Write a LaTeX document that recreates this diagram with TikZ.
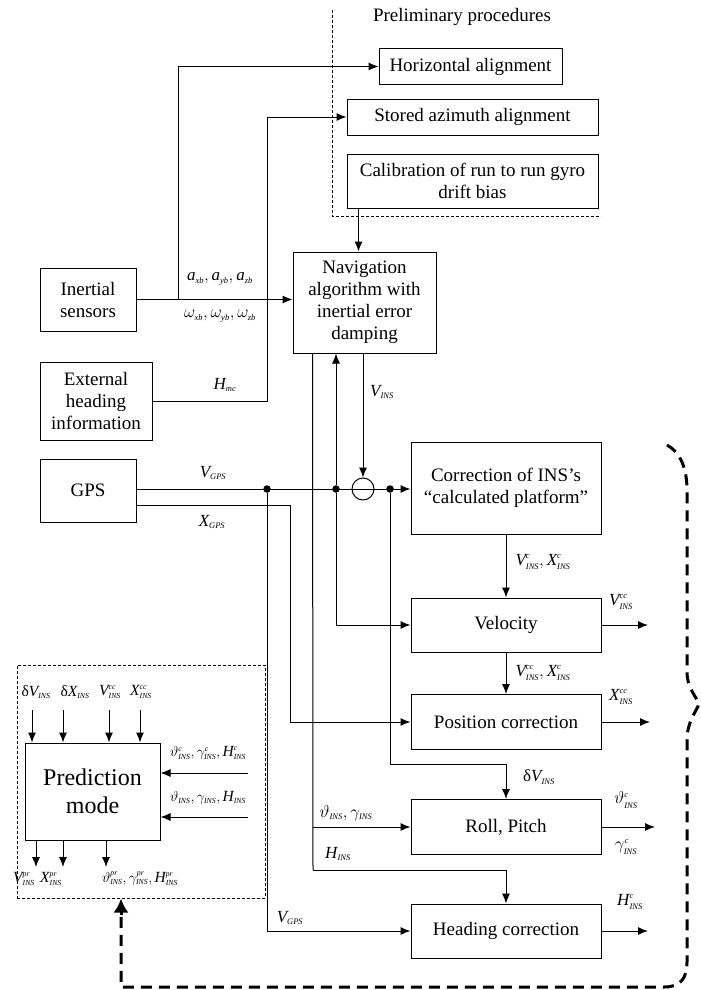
\documentclass[tikz,border=0pt]{standalone}
\usepackage{amsmath}
\usepackage{fontspec}
\setmainfont{Liberation Serif}
\usetikzlibrary{arrows.meta,calc}
\newcommand{\Lsub}[2]{\textit{#1}_{\scriptscriptstyle\textit{#2}}}
\newcommand{\Lsup}[3]{\textit{#1}^{\scriptscriptstyle\textit{#2}}_{\scriptscriptstyle\textit{#3}}}
\newcommand{\Gsub}[2]{#1_{\scriptscriptstyle\textit{#2}}}
\newcommand{\Gsup}[3]{#1^{\scriptscriptstyle\textit{#2}}_{\scriptscriptstyle\textit{#3}}}
\tikzset{
  box/.style={draw, line width=1pt, align=center, inner sep=0pt, font=\fontsize{19}{22}\selectfont},
  lab/.style={inner sep=0pt, font=\fontsize{17}{20}\selectfont},
  plab/.style={inner sep=0pt, font=\fontsize{15.5}{18}\selectfont},
  arr/.style={line width=1pt, -{Latex[length=10pt,width=8pt]}},
  ln/.style={line width=1pt},
  dot/.style={circle, fill, inner sep=0pt, minimum size=7.5pt},
  thindash/.style={line width=1pt, dash pattern=on 3pt off 2pt},
  bigdash/.style={line width=3pt, dash pattern=on 11pt off 7pt},
}
\begin{document}
\begin{tikzpicture}[x=1pt,y=-1pt]
\useasboundingbox (0,0) rectangle (701,990);

% preliminary procedures region
\node[font=\fontsize{19}{22}\selectfont] (prel) at (462,17) {Preliminary procedures};
\coordinate (pd1) at (332,10);
\coordinate (pd2) at (332,216);
\coordinate (pd3) at (601,216);
\draw[thindash] (pd1) -- (pd2) -- (pd3);

\node[box, minimum width=183, minimum height=35] (horiz) at (470.5,66.5) {Horizontal alignment};
\node[box, minimum width=251, minimum height=36] (stored) at (472.5,117) {Stored azimuth alignment};
\node[box, minimum width=251, minimum height=54] (calib) at (472.5,181) {Calibration of run to run gyro\\drift bias};

\node[box, minimum width=143, minimum height=101] (nav) at (364.5,302.5) {Navigation\\algorithm with\\inertial error\\damping};
\node[box, minimum width=96, minimum height=63] (inert) at (88,299.5) {Inertial\\sensors};
\node[box, minimum width=112, minimum height=78] (ext) at (96,401) {External\\heading\\information};
\node[box, minimum width=96, minimum height=63] (gps) at (88,490.5) {GPS};

\node[box, minimum width=190, minimum height=92] (corr) at (506,488) {Correction of INS’s\\“calculated platform”};
\node[box, minimum width=190, minimum height=54] (vel) at (506,625) {Velocity};
\node[box, minimum width=190, minimum height=55] (pos) at (506,722) {Position correction};
\node[box, minimum width=190, minimum height=55] (roll) at (506,827) {Roll, Pitch};
\node[box, minimum width=190, minimum height=54] (head) at (506,931) {Heading correction};

\node[draw, line width=1pt, circle, minimum size=22pt, inner sep=0pt] (sum) at (363,489) {};

% prediction mode
\node[draw, thindash, minimum width=248, minimum height=233, inner sep=0pt] (pbox) at (141,781.5) {};
\node[box, minimum width=135, minimum height=97, font=\fontsize{24}{28}\selectfont] (pred) at (92.5,791.5) {Prediction\\mode};

% inertial sensors connections
\draw[arr] (inert.east) -- (inert.east -| nav.west);
\coordinate (j1) at (178,299.5);
\draw[arr] (j1) |- (horiz.west);
\coordinate (k1) at (267,401);
\draw[arr] (ext.east) -- (k1) |- (stored.west);
\coordinate (c1) at ([xshift=12pt]calib.south west);
\draw[arr] (c1) -- (c1 |- nav.north);

% GPS lines
\coordinate (g1) at ([yshift=1.5pt]gps.east);
\coordinate (g2) at ([yshift=-14.5pt]gps.east);
\node[dot] (d1) at (267,489) {};
\node[dot] (d2) at (336,489) {};
\node[dot] (d3) at (390,489) {};
\draw[ln] (g1) -- (sum.east);
\draw[arr] (sum.east) -- (sum.east -| corr.west);
\draw[arr] (nav.south -| sum.north) -- (sum.north);
\coordinate (x1) at (290,505);
\draw[arr] (g2) -- (x1) |- (pos.west);
\draw[arr] (d1) |- (head.west);

\coordinate (n1) at ([xshift=20pt]nav.south west);
\coordinate (n2) at (313,870);
\draw[ln] (n1) -- (n2);
\draw[arr] (n1 |- roll.west) -- (roll.west);
\draw[arr] (n2) -| (head.north);

\draw[arr] (d2) -- (d2 |- nav.south);
\draw[arr] (d2) |- (vel.west);

\coordinate (r1) at (390,764);
\draw[ln] (d3) -- (r1);
\draw[arr] (r1) -| (roll.north);

\draw[arr] (corr) -- (vel);
\draw[arr] (vel) -- (pos);

\coordinate (o1) at (648,625);
\coordinate (o2) at (650,722);
\coordinate (o3) at (655,827);
\coordinate (o4) at (648,931);
\draw[arr] (vel.east) -- (o1);
\draw[arr] (pos.east) -- (o2);
\draw[arr] (roll.east) -- (o3);
\draw[arr] (head.east) -- (o4);

% prediction arrows
\foreach \x in {32,63,109,140} {
  \coordinate (t\x) at (\x,710);
  \draw[arr] (t\x) -- (t\x |- pred.north);
}
\coordinate (p1) at (248,773);
\coordinate (p2) at (248,817);
\draw[arr] (p1) -- (p1 -| pred.east);
\draw[arr] (p2) -- (p2 -| pred.east);
\foreach \x in {36,63,106} {
  \coordinate (b\x) at (\x,867);
  \draw[arr] (b\x |- pred.south) -- (b\x);
}

% big dashed feedback
\coordinate (q1) at (121,915);
\draw[bigdash] (667,445) .. controls (680,452) and (687,468) .. (687,490) -- (687,672)
  .. controls (687,688) and (696,696) .. (699,704)
  .. controls (696,712) and (687,722) .. (687,740) -- (687,962)
  .. controls (687,979) and (680,987) .. (664,987) -- (121,987) -- (q1);
\draw[line width=3pt, -{Latex[length=14pt,width=15pt]}] (q1) -- (q1 |- pbox.south);

% labels
\node[lab] (la) at (220,279) {$\Lsub{a}{xb}, \Lsub{a}{yb}, \Lsub{a}{zb}$};
\node[lab] (lw) at (220,316) {$\Gsub{\omega}{xb}, \Gsub{\omega}{yb}, \Gsub{\omega}{zb}$};
\node[lab] (lh) at (225,385) {$\Lsub{H}{mc}$};
\node[lab] (lvins) at (382,392) {$\Lsub{V}{INS}$};
\node[lab] (lvgps) at (213,473) {$\Lsub{V}{GPS}$};
\node[lab] (lxgps) at (212,522) {$\Lsub{X}{GPS}$};
\node[lab] (lc1) at (543,562) {$\Lsup{V}{c}{INS}, \Lsup{X}{c}{INS}$};
\node[lab] (lc2) at (621,602) {$\Lsup{V}{cc}{INS}$};
\node[lab] (lc3) at (543,673) {$\Lsup{V}{cc}{INS}, \Lsup{X}{c}{INS}$};
\node[lab] (lc4) at (621,697) {$\Lsup{X}{cc}{INS}$};
\node[lab] (ldv) at (539,777) {δ$\Lsub{V}{INS}$};
\node[lab] (ltg) at (346,813) {$\Gsub{\vartheta}{INS}, \Gsub{\gamma}{INS}$};
\node[lab] (lhins) at (338,854) {$\Lsub{H}{INS}$};
\node[lab] (lthc) at (626,800) {$\Gsup{\vartheta}{c}{INS}$};
\node[lab] (lgac) at (626,847) {$\Gsup{\gamma}{c}{INS}$};
\node[lab] (lvg2) at (290,918) {$\Lsub{V}{GPS}$};
\node[lab] (lhc) at (630,902) {$\Lsup{H}{c}{INS}$};

\node[plab] (pt1) at (36,692) {δ$\Lsub{V}{INS}$};
\node[plab] (pt2) at (75,692) {δ$\Lsub{X}{INS}$};
\node[plab] (pt3) at (110,692) {$\Lsup{V}{cc}{INS}$};
\node[plab] (pt4) at (141,692) {$\Lsup{X}{cc}{INS}$};
\node[plab] (pr1) at (208,753) {$\Gsup{\vartheta}{c}{INS}, \Gsup{\gamma}{c}{INS}, \Lsup{H}{c}{INS}$};
\node[plab] (pr2) at (208,798) {$\Gsub{\vartheta}{INS}, \Gsub{\gamma}{INS}, \Lsub{H}{INS}$};
\node[plab] (pb1) at (24,879) {$\Lsup{V}{pr}{INS}$};
\node[plab] (pb2) at (51,879) {$\Lsup{X}{pr}{INS}$};
\node[plab] (pb3) at (140,879) {$\Gsup{\vartheta}{pr}{INS}, \Gsup{\gamma}{pr}{INS}, \Lsup{H}{pr}{INS}$};
\end{tikzpicture}
\end{document}
